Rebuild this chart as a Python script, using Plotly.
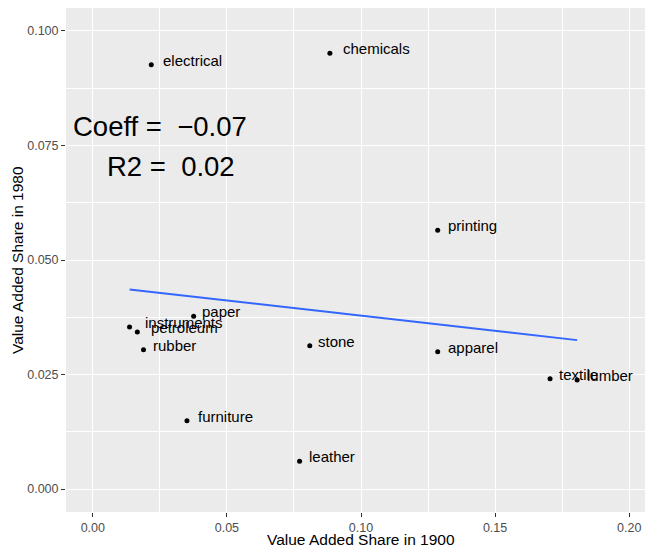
import numpy as np
import plotly.graph_objects as go

# Value-added shares by industry, 1900 vs 1980
industries = ["electrical", "chemicals", "printing", "paper", "instruments",
              "petroleum", "rubber", "stone", "furniture", "leather",
              "apparel", "textile", "lumber"]
share_1900 = [0.0218, 0.0884, 0.1286, 0.0376, 0.0137, 0.0166, 0.0189,
              0.0809, 0.0351, 0.0771, 0.1286, 0.1705, 0.1806]
share_1980 = [0.0926, 0.0951, 0.0565, 0.0377, 0.0354, 0.0343, 0.0304,
              0.0313, 0.0149, 0.0061, 0.0300, 0.0241, 0.0238]
x_ticks = [0.00, 0.05, 0.10, 0.15, 0.20]
y_ticks = [0.000, 0.025, 0.050, 0.075, 0.100]

FONT = "Liberation Sans, Arial, Helvetica, sans-serif"

x = np.array(share_1900)
y = np.array(share_1980)

# OLS fit
slope, intercept = np.polyfit(x, y, 1)
r2 = np.corrcoef(x, y)[0, 1] ** 2
x_fit = np.array([x.min(), x.max()])
y_fit = intercept + slope * x_fit

# approximate Arial advance widths (per 1000 em) for label offsets
_W = dict(a=556, b=556, c=500, d=556, e=556, f=278, g=556, h=556, i=222,
          j=222, k=500, l=222, m=833, n=556, o=556, p=556, q=556, r=333,
          s=500, t=278, u=556, v=500, w=722, x=500, y=500, z=500)


def text_width(s, size):
    return sum(_W.get(ch, 556) for ch in s) / 1000 * size


LABEL_SIZE = 15

fig = go.Figure()
fig.add_trace(go.Scatter(x=x, y=y, mode="markers",
                         marker=dict(color="black", size=5),
                         hoverinfo="skip", showlegend=False))
fig.add_trace(go.Scatter(x=x_fit, y=y_fit, mode="lines",
                         line=dict(color="#3366FF", width=2),
                         hoverinfo="skip", showlegend=False))

annotations = []
for name, xv, yv in zip(industries, share_1900, share_1980):
    annotations.append(dict(
        x=xv, y=yv, xref="x", yref="y", text=name, showarrow=False,
        xanchor="left", yanchor="middle",
        xshift=0.17 * text_width(name, LABEL_SIZE), yshift=4.5,
        font=dict(family=FONT, size=LABEL_SIZE, color="black")))

coef_txt = f"{slope:.2f}".replace("-", "\u2212")
annotations.append(dict(
    x=0.025, y=0.0792, xref="x", yref="y", showarrow=False,
    text=f"Coeff =\u00a0 {coef_txt}", xanchor="center", yanchor="middle",
    font=dict(family=FONT, size=27.5, color="black")))
annotations.append(dict(
    x=0.029, y=0.0705, xref="x", yref="y", showarrow=False,
    text=f"R2 =\u00a0 {r2:.2f}", xanchor="center", yanchor="middle",
    font=dict(family=FONT, size=27.5, color="black")))

# axis titles
annotations.append(dict(
    x=0.5095, y=-0.054, xref="paper", yref="paper", showarrow=False,
    text="Value Added Share in 1900", xanchor="center", yanchor="middle",
    font=dict(family=FONT, size=15.5, color="black")))
annotations.append(dict(
    x=-0.0846, y=0.5, xref="paper", yref="paper", showarrow=False,
    text="Value Added Share in 1980", textangle=-90,
    xanchor="center", yanchor="middle",
    font=dict(family=FONT, size=15.5, color="black")))

axis_common = dict(
    showgrid=True, gridcolor="white", gridwidth=1.1,
    zeroline=False, showline=False,
    ticks="outside", ticklen=4, tickwidth=1.1, tickcolor="#333333",
    tickfont=dict(family=FONT, size=12.5, color="#4D4D4D"),
)

fig.update_layout(
    width=645, height=550,
    margin=dict(l=66, r=0, t=8, b=38),
    paper_bgcolor="white", plot_bgcolor="#EBEBEB",
    annotations=annotations,
    xaxis=dict(range=[-0.01, 0.2059], tickvals=x_ticks,
               ticktext=[f"{v:.2f}" for v in x_ticks],
               ticklabelstandoff=0,
               minor=dict(dtick=0.025, tick0=0, showgrid=True,
                          gridcolor="white", gridwidth=0.55, ticks=""),
               **axis_common),
    yaxis=dict(range=[-0.005, 0.105], tickvals=y_ticks,
               ticktext=[f"{v:.3f}" for v in y_ticks],
               minor=dict(dtick=0.0125, tick0=0, showgrid=True,
                          gridcolor="white", gridwidth=0.55, ticks=""),
               **axis_common),
)

fig.write_html("out.html")
